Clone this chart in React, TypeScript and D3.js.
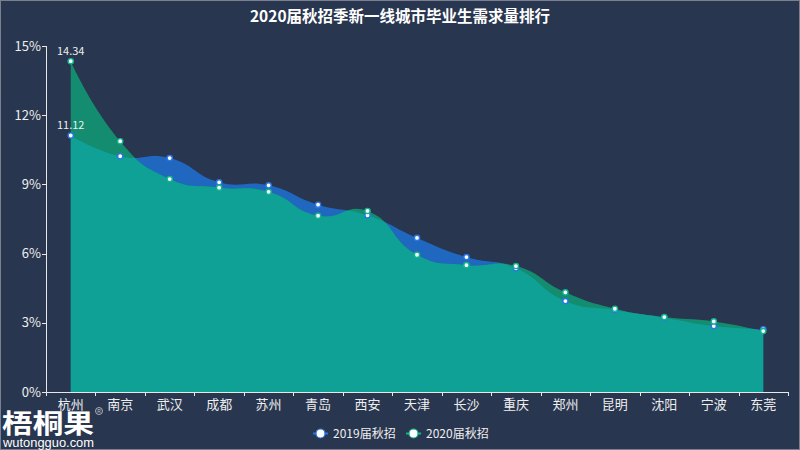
import React from "react";
import * as d3 from "d3";

const cities = ["杭州", "南京", "武汉", "成都", "苏州", "青岛", "西安", "天津", "长沙", "重庆", "郑州", "昆明", "沈阳", "宁波", "东莞"];
const values2019 = [11.12, 10.22, 10.14, 9.09, 8.96, 8.12, 7.66, 6.68, 5.85, 5.36, 3.94, 3.55, 3.22, 2.86, 2.72];
const values2020 = [14.34, 10.87, 9.23, 8.86, 8.68, 7.64, 7.85, 5.95, 5.50, 5.46, 4.32, 3.61, 3.25, 3.06, 2.64];
const yTicks = [0, 3, 6, 9, 12, 15];
const seriesNames = ["2019届秋招", "2020届秋招"];
const titleText = "2020届秋招季新一线城市毕业生需求量排行";

const FONT = "'Noto Sans CJK SC', 'Noto Sans', sans-serif";

// ECharts-like bezier smoothing (smooth = 0.5)
class EchartsCurve {
  _context: any;
  _smooth: number;
  _line: number = NaN;
  _pts: number[][] = [];
  constructor(context: any, smooth: number) {
    this._context = context;
    this._smooth = smooth;
  }
  areaStart() { this._line = 0; }
  areaEnd() { this._line = NaN; }
  lineStart() { this._pts = []; }
  point(x: number, y: number) { this._pts.push([+x, +y]); }
  lineEnd() {
    const p = this._pts;
    const ctx = this._context;
    const n = p.length;
    const s = this._smooth;
    if (n) {
      if (this._line) ctx.lineTo(p[0][0], p[0][1]);
      else ctx.moveTo(p[0][0], p[0][1]);
      let cpx0 = p[0][0], cpy0 = p[0][1];
      for (let i = 1; i < n; i++) {
        const [x, y] = p[i];
        const [px, py] = p[i - 1];
        let cpx1 = x, cpy1 = y, nx0 = x, ny0 = y;
        if (i < n - 1) {
          const [qx, qy] = p[i + 1];
          const vx = qx - px, vy = qy - py;
          const l0 = Math.hypot(x - px, y - py);
          const l1 = Math.hypot(qx - x, qy - y);
          const r = l0 + l1 > 0 ? l1 / (l0 + l1) : 0.5;
          nx0 = x + vx * s * r;
          ny0 = y + vy * s * r;
          cpx1 = x - vx * s * (1 - r);
          cpy1 = y - vy * s * (1 - r);
        }
        ctx.bezierCurveTo(cpx0, cpy0, cpx1, cpy1, x, y);
        cpx0 = nx0; cpy0 = ny0;
      }
    }
    if (this._line || (this._line !== 0 && n === 1)) ctx.closePath();
    this._line = 1 - this._line;
  }
}
const curveEcharts = (context: any) => new EchartsCurve(context, 0.5);

export default function App() {
  const W = 800, H = 450;
  const left = 46, right = 788, top = 46, bottom = 392;

  const x = d3.scaleBand<string>().domain(cities).range([left, right]).paddingInner(0).paddingOuter(0);
  const cx = (c: string) => (x(c) as number) + x.bandwidth() / 2;
  const y = d3.scaleLinear().domain([0, 15]).range([bottom, top]);

  const area = d3.area<number>()
    .x((_, i) => cx(cities[i]))
    .y0(bottom)
    .y1((d) => y(d))
    .curve(curveEcharts as any);

  const path2019 = area(values2019) || "";
  const path2020 = area(values2020) || "";

  const blueArea = "#2067c0";
  const greenOnly = "#138c6f";
  const overlap = "#0fa096";
  const blueDot = "#2a75e6";
  const greenDot = "#12b48e";
  const axisColor = "#e8e8e8";
  const textColor = "#eeeeee";

  const boundaries = [...cities.map((c) => x(c) as number), right];

  return (
    <svg width={W} height={H} style={{ position: "absolute", left: 0, top: 0, display: "block" }}>
      <defs>
        <clipPath id="clip2019">
          <path d={path2019} />
        </clipPath>
      </defs>
      <rect x={0} y={0} width={W} height={H} fill="#29364f" />
      <rect x={0.5} y={0.5} width={W - 1} height={H - 1} fill="none" stroke="#7a8090" strokeWidth={1} />

      <text x={400} y={22} textAnchor="middle" fill="#ffffff" fontFamily={FONT} fontWeight="bold" fontSize={15.5}>
        {titleText}
      </text>

      {/* areas */}
      <path d={path2019} fill={blueArea} />
      <path d={path2020} fill={greenOnly} />
      <path d={path2020} fill={overlap} clipPath="url(#clip2019)" />

      {/* y axis */}
      <line x1={left + 0.5} x2={left + 0.5} y1={top} y2={bottom} stroke={axisColor} strokeWidth={1} />
      {yTicks.map((t) => (
        <g key={t}>
          <line x1={left - 4} x2={left} y1={Math.round(y(t)) + 0.5} y2={Math.round(y(t)) + 0.5} stroke={axisColor} />
          <text x={left - 5} y={y(t)} dy="0.35em" textAnchor="end" fill={textColor} fontFamily={FONT} fontSize={13}>
            {t}%
          </text>
        </g>
      ))}

      {/* x axis */}
      <line x1={left} x2={right} y1={bottom + 0.5} y2={bottom + 0.5} stroke={axisColor} strokeWidth={1} />
      {boundaries.map((b, i) => (
        <line key={i} x1={Math.round(b) + 0.5} x2={Math.round(b) + 0.5} y1={bottom} y2={bottom + 4} stroke={axisColor} />
      ))}
      {cities.map((c) => (
        <text key={c} x={cx(c)} y={bottom + 17} textAnchor="middle" fill={textColor} fontFamily={FONT} fontSize={13}>
          {c}
        </text>
      ))}

      {/* points */}
      {values2019.map((v, i) => (
        <circle key={"a" + i} cx={cx(cities[i])} cy={y(v)} r={2.6} fill="#ffffff" stroke={blueDot} strokeWidth={1.4} />
      ))}
      {values2020.map((v, i) => (
        <circle key={"b" + i} cx={cx(cities[i])} cy={y(v)} r={2.6} fill="#ffffff" stroke={greenDot} strokeWidth={1.4} />
      ))}
      <text x={cx(cities[0])} y={y(values2020[0]) - 6} textAnchor="middle" fill={textColor} fontFamily={FONT} fontSize={11}>
        {values2020[0].toFixed(2)}
      </text>
      <text x={cx(cities[0])} y={y(values2019[0]) - 6} textAnchor="middle" fill={textColor} fontFamily={FONT} fontSize={11}>
        {values2019[0].toFixed(2)}
      </text>

      {/* legend */}
      {[
        { name: seriesNames[0], color: blueDot, x0: 313 },
        { name: seriesNames[1], color: greenDot, x0: 406 },
      ].map((l) => (
        <g key={l.name}>
          <line x1={l.x0} x2={l.x0 + 15} y1={433.5} y2={433.5} stroke={l.color} strokeWidth={2} />
          <circle cx={l.x0 + 7.5} cy={433.5} r={4.5} fill="#ffffff" stroke={l.color} strokeWidth={1.2} />
          <text x={l.x0 + 20} y={433.5} dy="0.35em" fill={textColor} fontFamily={FONT} fontSize={12}>
            {l.name}
          </text>
        </g>
      ))}

      {/* watermark */}
      <text x={2} y={433} fill="#ffffff" fontFamily={FONT} fontWeight="bold" fontSize={26} textLength={92} lengthAdjust="spacingAndGlyphs">
        梧桐果
      </text>
      <text x={3} y={447} fill="#ffffff" fontFamily="'Liberation Sans', Arial, sans-serif" fontSize={12.5} textLength={91} lengthAdjust="spacingAndGlyphs">
        wutongguo.com
      </text>
      <circle cx={99} cy={411} r={3.5} fill="none" stroke="#cccccc" strokeWidth={0.8} />
      <text x={99} y={413} textAnchor="middle" fill="#cccccc" fontFamily="'Liberation Sans', sans-serif" fontSize={5}>
        R
      </text>
    </svg>
  );
}
